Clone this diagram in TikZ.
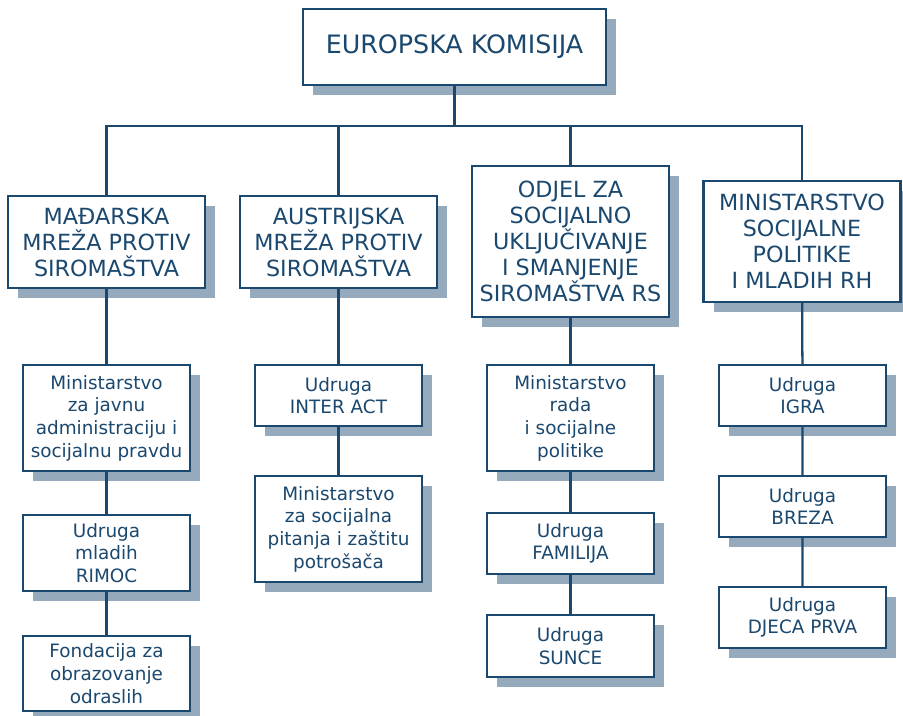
\documentclass[tikz,border=0pt]{standalone}
\usepackage{fontspec}
\setmainfont{DejaVu Sans}
\usetikzlibrary{shadows}
\definecolor{boxblue}{RGB}{27,72,110}
\definecolor{shadowgray}{RGB}{150,170,190}
\tikzset{
	orgbox/.style={draw=boxblue, line width=1.8pt, fill=white, text=boxblue, align=center, inner sep=0pt,
		drop shadow={shadow xshift=7.5pt, shadow yshift=-7.5pt, fill=shadowgray, opacity=1}},
	topbox/.style={orgbox, minimum width=227.25pt, minimum height=57pt, font=\fontsize{19}{22}\selectfont},
	headbox/.style={orgbox, minimum width=147.75pt, font=\fontsize{16.7}{19.5}\selectfont},
	subbox/.style={orgbox, minimum width=125.25pt, font=\fontsize{13.8}{17}\selectfont},
	link/.style={draw=boxblue, line width=1.7pt},
}
\begin{document}
\begin{tikzpicture}[x=0.75pt,y=-0.75pt]
				\useasboundingbox (0,0) rectangle (903,716);
				\node[topbox] (ek) at (454.5,47) {EUROPSKA KOMISIJA};
				\node[headbox, minimum height=69pt] (mad) at (106.5,242) {MAĐARSKA\\MREŽA PROTIV\\SIROMAŠTVA};
				\node[headbox, minimum height=69pt] (aus) at (338.5,242) {AUSTRIJSKA\\MREŽA PROTIV\\SIROMAŠTVA};
				\node[headbox, minimum height=113.25pt] (odj) at (570.5,241.5) {ODJEL ZA\\SOCIJALNO\\UKLJUČIVANJE\\I SMANJENJE\\SIROMAŠTVA RS};
				\node[headbox, minimum height=90.75pt] (min) at (802,241.5) {MINISTARSTVO\\SOCIJALNE\\POLITIKE\\I MLADIH RH};
				\node[subbox, minimum height=79.5pt] (mja) at (106.5,418) {Ministarstvo\\za javnu\\administraciju i\\socijalnu pravdu};
				\node[subbox, minimum height=57pt] (rim) at (106.5,553) {Udruga\\mladih\\RIMOC};
				\node[subbox, minimum height=56.25pt] (fon) at (106.5,673.5) {Fondacija za\\obrazovanje\\odraslih};
				\node[subbox, minimum height=45.75pt] (int) at (338.5,395.5) {Udruga\\INTER ACT};
				\node[subbox, minimum height=79.5pt] (msp) at (338.5,529) {Ministarstvo\\za socijalna\\pitanja i zaštitu\\potrošača};
				\node[subbox, minimum height=79.5pt] (mrs) at (570.5,418) {Ministarstvo\\rada\\i socijalne\\politike};
				\node[subbox, minimum height=45.75pt] (fam) at (570.5,543.5) {Udruga\\FAMILIJA};
				\node[subbox, minimum height=46.5pt] (sun) at (570.5,646) {Udruga\\SUNCE};
				\node[subbox, minimum height=45.75pt] (igr) at (802.5,395.5) {Udruga\\IGRA};
				\node[subbox, minimum height=45.75pt] (bre) at (802.5,506.5) {Udruga\\BREZA};
				\node[subbox, minimum height=45.75pt] (dje) at (802.5,617.5) {Udruga\\DJECA PRVA};
				\coordinate (bus) at (454.5,126);
				\draw[link] (ek) to (bus);
				\draw[link] (mad.north) |- (bus) -| (min.north);
				\draw[link] (aus.north) to (aus.north |- bus);
				\draw[link] (odj.north) to (odj.north |- bus);
				\draw[link] (mad) to (mja) to (rim) to (fon);
				\draw[link] (aus) to (int) to (msp);
				\draw[link] (odj) to (mrs) to (fam) to (sun);
				\draw[link] (min) to (igr) to (bre) to (dje);
			\end{tikzpicture}
\end{document}
